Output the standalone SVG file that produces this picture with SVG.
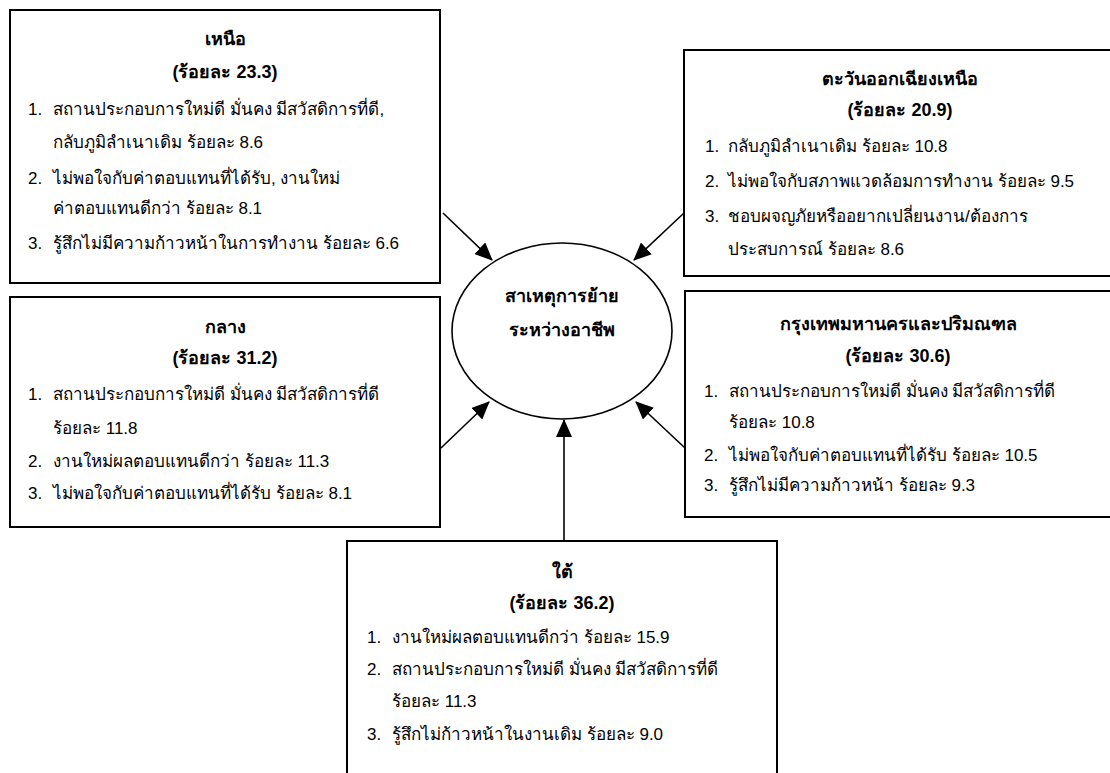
<svg xmlns="http://www.w3.org/2000/svg" width="1110" height="773" viewBox="0 0 1110 773">
<defs>
<style>
.box{fill:#fff;stroke:#000;stroke-width:2}
text{font-family:"Liberation Sans","Noto Sans","DejaVu Sans",sans-serif;fill:#000}
.h{font-size:18px;font-weight:bold;text-anchor:middle}
.t{font-size:17px}
.c{font-size:18px;font-weight:bold;text-anchor:middle}
.arr{stroke:#000;stroke-width:1.6;fill:none;marker-end:url(#ah)}
</style>
<marker id="ah" markerUnits="userSpaceOnUse" markerWidth="18" markerHeight="16" viewBox="0 0 18 16" refX="17" refY="8" orient="auto">
<path d="M0,0 L18,8 L0,16 z" fill="#000"/>
</marker>
</defs>
<rect width="1110" height="773" fill="#fff"/>

<g id="north">
<rect class="box" x="10" y="10" width="430" height="273"/>
<text class="h" x="225" y="45">เหนือ</text>
<text class="h" x="225" y="78">(ร้อยละ 23.3)</text>
<text class="t" x="28" y="115">1.</text><text class="t" x="53" y="115">สถานประกอบการใหม่ดี มั่นคง มีสวัสดิการที่ดี,</text>
<text class="t" x="53" y="148">กลับภูมิลำเนาเดิม ร้อยละ 8.6</text>
<text class="t" x="28" y="184">2.</text><text class="t" x="53" y="184">ไม่พอใจกับค่าตอบแทนที่ได้รับ, งานใหม่</text>
<text class="t" x="53" y="214">ค่าตอบแทนดีกว่า ร้อยละ 8.1</text>
<text class="t" x="28" y="249">3.</text><text class="t" x="53" y="249">รู้สึกไม่มีความก้าวหน้าในการทำงาน ร้อยละ 6.6</text>
</g>

<g id="northeast">
<rect class="box" x="684" y="50" width="440" height="226"/>
<text class="h" x="900" y="85">ตะวันออกเฉียงเหนือ</text>
<text class="h" x="900" y="116">(ร้อยละ 20.9)</text>
<text class="t" x="705" y="152">1.</text><text class="t" x="728" y="152">กลับภูมิลำเนาเดิม ร้อยละ 10.8</text>
<text class="t" x="705" y="187">2.</text><text class="t" x="728" y="187">ไม่พอใจกับสภาพแวดล้อมการทำงาน ร้อยละ 9.5</text>
<text class="t" x="705" y="222">3.</text><text class="t" x="728" y="222">ชอบผจญภัยหรืออยากเปลี่ยนงาน/ต้องการ</text>
<text class="t" x="728" y="255">ประสบการณ์ ร้อยละ 8.6</text>
</g>

<g id="central">
<rect class="box" x="10" y="297" width="430" height="230"/>
<text class="h" x="225" y="333">กลาง</text>
<text class="h" x="225" y="364">(ร้อยละ 31.2)</text>
<text class="t" x="28" y="400">1.</text><text class="t" x="53" y="400">สถานประกอบการใหม่ดี มั่นคง มีสวัสดิการที่ดี</text>
<text class="t" x="53" y="434">ร้อยละ 11.8</text>
<text class="t" x="28" y="467">2.</text><text class="t" x="53" y="467">งานใหม่ผลตอบแทนดีกว่า ร้อยละ 11.3</text>
<text class="t" x="28" y="499">3.</text><text class="t" x="53" y="499">ไม่พอใจกับค่าตอบแทนที่ได้รับ ร้อยละ 8.1</text>
</g>

<g id="bangkok">
<rect class="box" x="685" y="291" width="440" height="226"/>
<text class="h" x="898" y="330">กรุงเทพมหานครและปริมณฑล</text>
<text class="h" x="898" y="362">(ร้อยละ 30.6)</text>
<text class="t" x="704" y="397">1.</text><text class="t" x="729" y="397">สถานประกอบการใหม่ดี มั่นคง มีสวัสดิการที่ดี</text>
<text class="t" x="729" y="428">ร้อยละ 10.8</text>
<text class="t" x="704" y="461">2.</text><text class="t" x="729" y="461">ไม่พอใจกับค่าตอบแทนที่ได้รับ ร้อยละ 10.5</text>
<text class="t" x="704" y="491">3.</text><text class="t" x="729" y="491">รู้สึกไม่มีความก้าวหน้า ร้อยละ 9.3</text>
</g>

<g id="south">
<rect class="box" x="347" y="541" width="430" height="260"/>
<text class="h" x="562" y="578">ใต้</text>
<text class="h" x="562" y="609">(ร้อยละ 36.2)</text>
<text class="t" x="367" y="643">1.</text><text class="t" x="392" y="643">งานใหม่ผลตอบแทนดีกว่า ร้อยละ 15.9</text>
<text class="t" x="367" y="675">2.</text><text class="t" x="392" y="675">สถานประกอบการใหม่ดี มั่นคง มีสวัสดิการที่ดี</text>
<text class="t" x="392" y="707">ร้อยละ 11.3</text>
<text class="t" x="367" y="740">3.</text><text class="t" x="392" y="740">รู้สึกไม่ก้าวหน้าในงานเดิม ร้อยละ 9.0</text>
</g>

<g id="center">
<ellipse cx="562" cy="331" rx="110" ry="88" fill="#fff" stroke="#000" stroke-width="1.6"/>
<text class="c" x="562" y="302">สาเหตุการย้าย</text>
<text class="c" x="562" y="336">ระหว่างอาชีพ</text>
</g>

<g id="connectors">
<line class="arr" x1="443" y1="213" x2="492" y2="260"/>
<line class="arr" x1="684" y1="213" x2="634" y2="260"/>
<line class="arr" x1="441" y1="448" x2="489" y2="402"/>
<line class="arr" x1="685" y1="448" x2="636" y2="402"/>
<line class="arr" x1="564" y1="541" x2="564" y2="420"/>
</g>
</svg>
